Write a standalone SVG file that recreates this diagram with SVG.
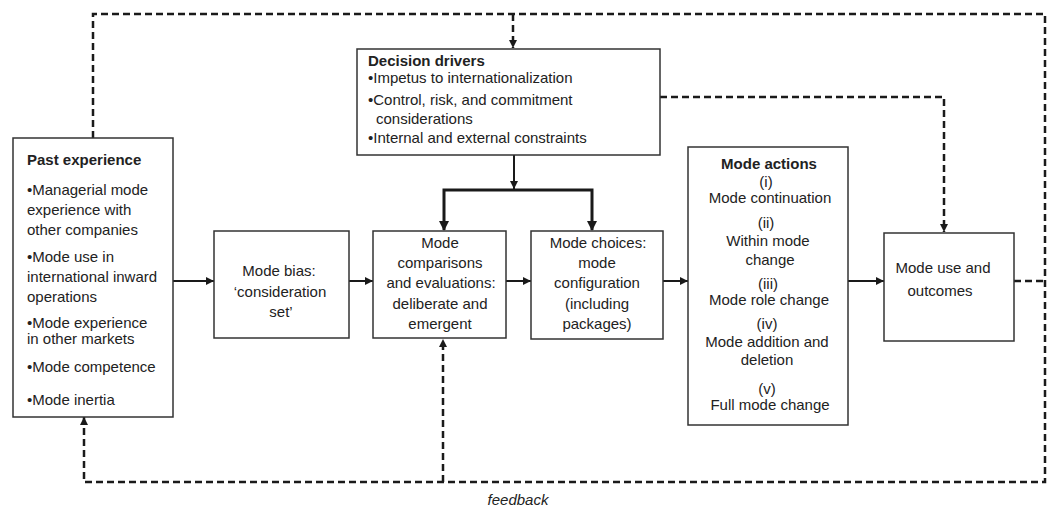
<svg xmlns="http://www.w3.org/2000/svg" width="1048" height="511" viewBox="0 0 1048 511">
<style>
  .box { fill: #fff; stroke: #333; stroke-width: 1.5; }
  .t { font-family: "Liberation Sans", Arial, sans-serif; font-size: 15px; fill: #222; }
  .b { font-weight: bold; }
  .m { text-anchor: middle; }
  .solid { fill: none; stroke: #1a1a1a; stroke-width: 2; }
  .thick { fill: none; stroke: #1a1a1a; stroke-width: 3; }
  .dash { fill: none; stroke: #1a1a1a; stroke-width: 2.5; stroke-dasharray: 7 4; }
</style>
<defs>
  <marker id="ah" viewBox="0 0 10 10" refX="10" refY="5" markerWidth="10" markerHeight="8" markerUnits="userSpaceOnUse" orient="auto">
    <path d="M0,0 L10,5 L0,10 z" fill="#1a1a1a"/>
  </marker>
</defs>
<rect width="1048" height="511" fill="#fff"/>

<g id="connectors">
  <!-- feedback loop -->
  <polyline class="dash" points="93,138 93,14 1045,14 1045,482 84,482 84,417" marker-end="url(#ah)"/>
  <line class="dash" x1="513" y1="14" x2="513" y2="48" marker-end="url(#ah)"/>
  <line class="dash" x1="1014" y1="281" x2="1045" y2="281"/>
  <line class="dash" x1="443" y1="482" x2="443" y2="339" marker-end="url(#ah)"/>
  <polyline class="dash" points="660,97 944,97 944,232" marker-end="url(#ah)"/>
  <!-- decision drivers down -->
  <line class="solid" x1="514" y1="155" x2="514" y2="189" marker-end="url(#ah)"/>
  <polyline class="thick" points="444,230 444,190 592,190 592,230"/>
  <path d="M439,221 L444,231 L449,221 z" fill="#1a1a1a"/>
  <path d="M587,221 L592,231 L597,221 z" fill="#1a1a1a"/>
  <!-- main flow -->
  <line class="solid" x1="173" y1="281" x2="214" y2="281" marker-end="url(#ah)"/>
  <line class="solid" x1="349" y1="281" x2="373" y2="281" marker-end="url(#ah)"/>
  <line class="solid" x1="506" y1="281" x2="531" y2="281" marker-end="url(#ah)"/>
  <line class="solid" x1="663" y1="281" x2="688" y2="281" marker-end="url(#ah)"/>
  <line class="solid" x1="848" y1="281" x2="884" y2="281" marker-end="url(#ah)"/>
  <text class="t m" x="518" y="505" font-style="italic">feedback</text>
</g>

<g id="past-experience">
  <rect class="box" x="13" y="138" width="160" height="279"/>
  <text class="t b" x="27" y="165">Past experience</text>
  <text class="t" x="27" y="195">•Managerial mode</text>
  <text class="t" x="27" y="215">experience with</text>
  <text class="t" x="27" y="235">other companies</text>
  <text class="t" x="27" y="262">•Mode use in</text>
  <text class="t" x="27" y="282">international inward</text>
  <text class="t" x="27" y="302">operations</text>
  <text class="t" x="27" y="328">•Mode experience</text>
  <text class="t" x="27" y="344">in other markets</text>
  <text class="t" x="27" y="372">•Mode competence</text>
  <text class="t" x="27" y="405">•Mode inertia</text>
</g>

<g id="decision-drivers">
  <rect class="box" x="357" y="49" width="303" height="106"/>
  <text class="t b" x="368" y="66">Decision drivers</text>
  <text class="t" x="368" y="83">•Impetus to internationalization</text>
  <text class="t" x="368" y="105">•Control, risk, and commitment</text>
  <text class="t" x="376" y="124">considerations</text>
  <text class="t" x="368" y="143">•Internal and external constraints</text>
</g>

<g id="mode-bias">
  <rect class="box" x="214" y="231" width="135" height="107"/>
  <text class="t m" x="279" y="276">Mode bias:</text>
  <text class="t m" x="280" y="297">‘consideration</text>
  <text class="t m" x="281" y="317">set’</text>
</g>

<g id="mode-comparisons">
  <rect class="box" x="373" y="231" width="133" height="107"/>
  <text class="t m" x="440" y="248">Mode</text>
  <text class="t m" x="440" y="268">comparisons</text>
  <text class="t m" x="441" y="288">and evaluations:</text>
  <text class="t m" x="440" y="309">deliberate and</text>
  <text class="t m" x="440" y="329">emergent</text>
</g>

<g id="mode-choices">
  <rect class="box" x="531" y="231" width="132" height="108"/>
  <text class="t m" x="598" y="248">Mode choices:</text>
  <text class="t m" x="597" y="268">mode</text>
  <text class="t m" x="597" y="288">configuration</text>
  <text class="t m" x="597" y="309">(including</text>
  <text class="t m" x="597" y="329">packages)</text>
</g>

<g id="mode-actions">
  <rect class="box" x="688" y="147" width="160" height="278"/>
  <text class="t b m" x="769" y="169">Mode actions</text>
  <text class="t m" x="766" y="187">(i)</text>
  <text class="t m" x="770" y="203">Mode continuation</text>
  <text class="t m" x="766" y="228">(ii)</text>
  <text class="t m" x="768" y="246">Within mode</text>
  <text class="t m" x="770" y="265">change</text>
  <text class="t m" x="768" y="289">(iii)</text>
  <text class="t m" x="769" y="305">Mode role change</text>
  <text class="t m" x="767" y="329">(iv)</text>
  <text class="t m" x="767" y="347">Mode addition and</text>
  <text class="t m" x="767" y="365">deletion</text>
  <text class="t m" x="767" y="394">(v)</text>
  <text class="t m" x="770" y="410">Full mode change</text>
</g>

<g id="mode-use">
  <rect class="box" x="884" y="233" width="130" height="108"/>
  <text class="t m" x="943" y="273">Mode use and</text>
  <text class="t m" x="940" y="296">outcomes</text>
</g>
</svg>
